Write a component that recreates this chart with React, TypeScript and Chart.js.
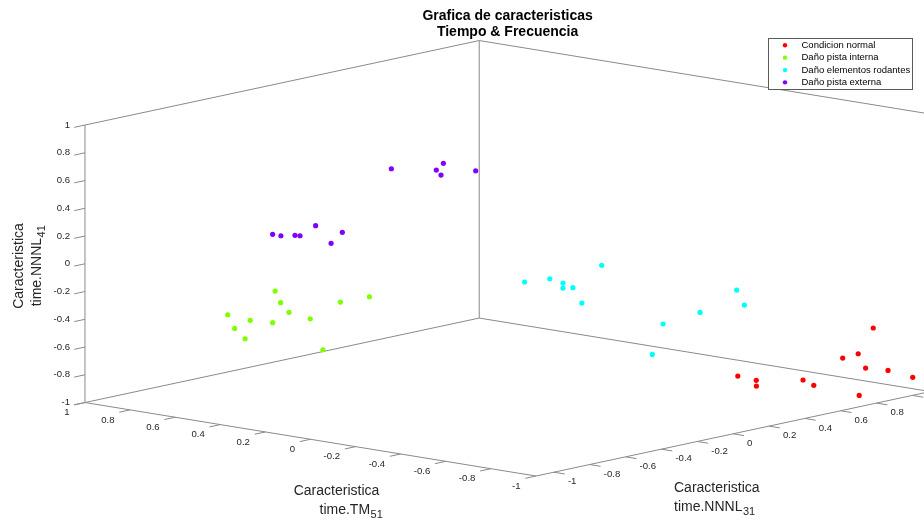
import { useEffect, useRef } from "react";
import { Chart, registerables } from "chart.js";

Chart.register(...registerables);

// ---- data: each point is [TM51, NNNL31, NNNL41] ----
const SERIES_NAMES = [
  "Condicion normal",
  "Daño pista interna",
  "Daño elementos rodantes",
  "Daño pista externa",
];
const SERIES_COLORS = ["#ff0000", "#80ff00", "#00ffff", "#8000ff"];

const normal: number[][] = [
  [-0.703, 0.4, -0.773],
  [-0.745, 0.45, -0.807],
  [-0.706, 0.5, -0.872],
  [-0.873, 0.55, -0.798],
  [-0.881, 0.6, -0.848],
  [-0.89, 0.75, -0.691],
  [-0.919, 0.8, -0.666],
  [-0.946, 0.85, -0.487],
  [-0.936, 0.82, -0.77],
  [-0.932, 0.95, -0.824],
  [-0.986, 1.02, -0.879],
  [-0.987, 0.72, -0.926],
];

const innerRace: number[][] = [
  [0.435, -0.75, -0.144],
  [0.355, -0.82, -0.187],
  [0.413, -0.7, -0.305],
  [0.526, -0.9, -0.297],
  [0.466, -0.85, -0.335],
  [0.422, -0.78, -0.36],
  [0.511, -0.88, -0.397],
  [0.433, -0.92, -0.44],
  [0.303, -0.72, -0.317],
  [0.225, -0.65, -0.195],
  [0.136, -0.6, -0.147],
  [0.064, -0.95, -0.413],
];

const rollingElements: number[][] = [
  [-0.155, -0.1, -0.102],
  [-0.187, 0.0, -0.098],
  [-0.206, 0.05, -0.138],
  [-0.285, -0.05, -0.125],
  [-0.226, 0.08, -0.174],
  [-0.298, 0.15, -0.013],
  [-0.25, 0.1, -0.284],
  [-0.451, 0.3, -0.437],
  [-0.483, 0.2, -0.62],
  [-0.496, 0.45, -0.383],
  [-0.539, 0.6, -0.252],
  [-0.613, 0.55, -0.327],
];

const outerRace: number[][] = [
  [0.605, -0.55, 0.165],
  [0.608, -0.5, 0.14],
  [0.466, -0.6, 0.208],
  [0.563, -0.45, 0.138],
  [0.438, -0.52, 0.263],
  [0.29, -0.62, 0.203],
  [0.415, -0.4, 0.188],
  [0.595, 0.1, 0.46],
  [0.475, 0.2, 0.455],
  [0.404, 0.15, 0.536],
  [0.494, 0.25, 0.4],
  [0.38, 0.3, 0.447],
];

// axis limits and ticks
const TM_LIMITS = [-1, 1];
const N31_LIMITS = [-1.1, 1.1];
const N41_LIMITS = [-1, 1];
const TM_TICKS = [-1, -0.8, -0.6, -0.4, -0.2, 0, 0.2, 0.4, 0.6, 0.8, 1];
const N31_TICKS = [-1, -0.8, -0.6, -0.4, -0.2, 0, 0.2, 0.4, 0.6, 0.8, 1];
const N41_TICKS = [-1, -0.8, -0.6, -0.4, -0.2, 0, 0.2, 0.4, 0.6, 0.8, 1];

const TITLE_LINES = ["Grafica de caracteristicas", "Tiempo & Frecuencia"];

// ---- fixed 3D view (orthographic), expressed in plane units of the chart scales ----
const W = 924;
const H = 523;
const VIEW_ORIGIN = [507.6, 258.3];
const AXIS_TM = [-225.5, -36.75];
const AXIS_N31 = [179.2, -38.4];
const AXIS_N41 = [0, -138.75];

function project(p: number[]) {
  return {
    x: VIEW_ORIGIN[0] + p[0] * AXIS_TM[0] + p[1] * AXIS_N31[0] + p[2] * AXIS_N41[0],
    y: VIEW_ORIGIN[1] + p[0] * AXIS_TM[1] + p[1] * AXIS_N31[1] + p[2] * AXIS_N41[1],
  };
}

function unit(v: number[], sign: number) {
  const l = Math.hypot(v[0], v[1]);
  return [(sign * v[0]) / l, (sign * v[1]) / l];
}

const FONT_FAMILY = '"Liberation Sans", Arial, Helvetica, sans-serif';
const AXIS_COLOR = "#8a8a8a";
const TEXT_COLOR = "#262626";
const TICK_LEN = 11;
const TICK_FONT = `9.6px ${FONT_FAMILY}`;

const [tmLo, tmHi] = TM_LIMITS;
const [nLo, nHi] = N31_LIMITS;
const [zLo, zHi] = N41_LIMITS;

// visible box edges (polylines of 3D corners)
const BOX_EDGES: number[][][] = [
  [[tmHi, nLo, zLo], [tmHi, nLo, zHi]],
  [[tmHi, nLo, zLo], [tmLo, nLo, zLo], [tmLo, nHi, zLo]],
  [[tmHi, nLo, zLo], [tmHi, nHi, zLo], [tmLo, nHi, zLo]],
  [[tmHi, nHi, zLo], [tmHi, nHi, zHi]],
  [[tmHi, nLo, zHi], [tmHi, nHi, zHi], [tmLo, nHi, zHi]],
  [[tmLo, nHi, zLo], [tmLo, nHi, zHi]],
];

function drawSubLabel(
  ctx: CanvasRenderingContext2D,
  main: string,
  sub: string,
  x: number,
  y: number,
  align: "left" | "center"
) {
  const mainFont = `14px ${FONT_FAMILY}`;
  const subFont = `11px ${FONT_FAMILY}`;
  ctx.font = mainFont;
  const w1 = ctx.measureText(main).width;
  ctx.font = subFont;
  const w2 = ctx.measureText(sub).width;
  const start = align === "center" ? x - (w1 + w2) / 2 : x;
  ctx.textAlign = "left";
  ctx.font = mainFont;
  ctx.fillText(main, start, y);
  ctx.font = subFont;
  ctx.fillText(sub, start + w1 + 0.5, y + 5);
}

const axesPlugin = {
  id: "axes3d",
  beforeDatasetsDraw(chart: any) {
    const ctx: CanvasRenderingContext2D = chart.ctx;
    const sx = chart.scales.x;
    const sy = chart.scales.y;
    const toPx = (p: number[]) => {
      const q = project(p);
      return [sx.getPixelForValue(q.x), sy.getPixelForValue(q.y)];
    };
    const outN31 = unit(AXIS_N31, -1);
    const outTm = unit(AXIS_TM, -1);

    ctx.save();
    ctx.strokeStyle = AXIS_COLOR;
    ctx.lineWidth = 1;
    ctx.fillStyle = TEXT_COLOR;
    ctx.font = TICK_FONT;
    ctx.textBaseline = "middle";

    // NNNL41 (vertical) axis
    ctx.textAlign = "right";
    N41_TICKS.forEach((v) => {
      const [x, y] = toPx([tmHi, nLo, v]);
      ctx.beginPath();
      ctx.moveTo(x, y);
      ctx.lineTo(x + outN31[0] * TICK_LEN, y + outN31[1] * TICK_LEN);
      ctx.stroke();
      ctx.fillText(String(v), x - 15, y);
    });

    // TM51 axis (front-left floor edge)
    TM_TICKS.forEach((v) => {
      const [x, y] = toPx([v, nLo, zLo]);
      ctx.beginPath();
      ctx.moveTo(x, y);
      ctx.lineTo(x + outN31[0] * TICK_LEN, y + outN31[1] * TICK_LEN);
      ctx.stroke();
      ctx.fillText(String(v), x - 15.5, y + 10);
    });

    // NNNL31 axis (front-right floor edge)
    ctx.textAlign = "left";
    N31_TICKS.forEach((v) => {
      const [x, y] = toPx([tmLo, v, zLo]);
      ctx.beginPath();
      ctx.moveTo(x, y);
      ctx.lineTo(x + outTm[0] * TICK_LEN, y + outTm[1] * TICK_LEN);
      ctx.stroke();
      ctx.fillText(String(v), x + 14, y + 9.5);
    });

    // axis titles
    ctx.font = `14px ${FONT_FAMILY}`;
    ctx.textAlign = "center";
    ctx.fillText("Caracteristica", 336.5, 491.5);
    drawSubLabel(ctx, "time.TM", "51", 319.5, 510, "left");

    ctx.font = `14px ${FONT_FAMILY}`;
    ctx.textAlign = "left";
    ctx.fillText("Caracteristica", 674, 488.5);
    drawSubLabel(ctx, "time.NNNL", "31", 674, 507, "left");

    ctx.save();
    ctx.translate(19, 266);
    ctx.rotate(-Math.PI / 2);
    ctx.font = `14px ${FONT_FAMILY}`;
    ctx.textAlign = "center";
    ctx.fillText("Caracteristica", 0, 0);
    drawSubLabel(ctx, "time.NNNL", "41", 0, 18, "center");
    ctx.restore();

    // title
    ctx.fillStyle = "#000";
    ctx.font = `bold 14px ${FONT_FAMILY}`;
    ctx.textAlign = "center";
    TITLE_LINES.forEach((t, i) => ctx.fillText(t, VIEW_ORIGIN[0], 16 + i * 16.3));
    ctx.restore();
  },
  afterDatasetsDraw(chart: any) {
    const ctx: CanvasRenderingContext2D = chart.ctx;
    const items = chart.data.datasets.filter((d: any) => !d.isEdge);
    ctx.save();
    ctx.fillStyle = "#ffffff";
    ctx.strokeStyle = "#5a5a5a";
    ctx.lineWidth = 1;
    ctx.fillRect(768.5, 38.5, 144, 51);
    ctx.strokeRect(768.5, 38.5, 144, 51);
    ctx.font = `9.5px ${FONT_FAMILY}`;
    ctx.textBaseline = "middle";
    ctx.textAlign = "left";
    items.forEach((d: any, i: number) => {
      const y = 45.3 + i * 12.35;
      ctx.fillStyle = d.backgroundColor;
      ctx.beginPath();
      ctx.arc(785, y, 2.2, 0, Math.PI * 2);
      ctx.fill();
      ctx.fillStyle = "#000";
      ctx.fillText(d.label, 801.5, y);
    });
    ctx.restore();
  },
};

export default function App() {
  const canvasRef = useRef<HTMLCanvasElement>(null);

  useEffect(() => {
    document.body.style.margin = "0";
    const canvas = canvasRef.current;
    if (!canvas) return;

    const pointSets = [normal, innerRace, rollingElements, outerRace].map((pts, i) => ({
      label: SERIES_NAMES[i],
      data: pts.map(project),
      backgroundColor: SERIES_COLORS[i],
      borderColor: SERIES_COLORS[i],
      borderWidth: 0,
      pointRadius: 2.6,
      showLine: false,
      clip: false as any,
      order: 0,
    }));

    const edgeSets = BOX_EDGES.map((edge, i) => ({
      label: `edge${i}`,
      isEdge: true,
      data: edge.map(project),
      borderColor: AXIS_COLOR,
      borderWidth: 1,
      pointRadius: 0,
      showLine: true,
      fill: false,
      tension: 0,
      clip: false as any,
      order: 1,
    }));

    const chart = new Chart(canvas, {
      type: "scatter",
      data: { datasets: [...pointSets, ...edgeSets] as any },
      options: {
        animation: false,
        responsive: false,
        maintainAspectRatio: false,
        events: [],
        layout: { padding: 0, autoPadding: false },
        scales: {
          x: { type: "linear", min: 0, max: W, display: false },
          y: { type: "linear", min: 0, max: H, reverse: true, display: false },
        },
        plugins: {
          legend: { display: false },
          tooltip: { enabled: false },
          title: { display: false },
        },
      },
      plugins: [axesPlugin],
    });

    return () => chart.destroy();
  }, []);

  return (
    <div style={{ width: W, height: H, background: "#ffffff" }}>
      <canvas ref={canvasRef} width={W} height={H} style={{ display: "block" }} />
    </div>
  );
}
